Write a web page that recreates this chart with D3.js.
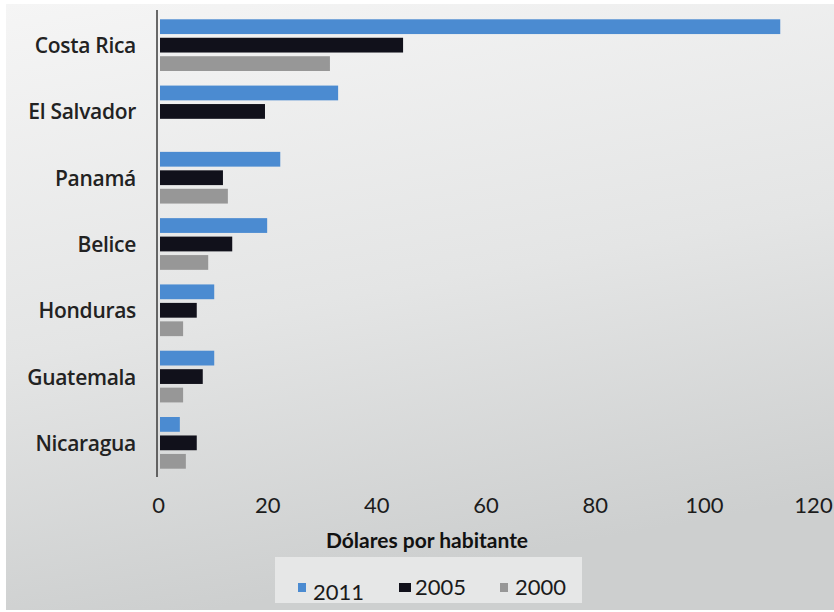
<!DOCTYPE html>
<html>
<head>
<meta charset="utf-8">
<script src="https://cdn.jsdelivr.net/npm/d3@7"></script>
<style>
  body { margin: 0; background: #fff; }
  svg { display: block; font-family: Lato, "DejaVu Sans", sans-serif; }
</style>
</head>
<body>
<div id="chart"></div>
<script>
// data (dólares por habitante)
var countries = ["Costa Rica", "El Salvador", "Panamá", "Belice", "Honduras", "Guatemala", "Nicaragua"]
var years = ["2011", "2005", "2000"]
var v2011 = [114, 33.0, 22.4, 20.0, 10.3, 10.3, 4.0]
var v2005 = [44.9, 19.6, 11.9, 13.6, 7.1, 8.2, 7.1]
var v2000 = [31.5, null, 12.8, 9.2, 4.6, 4.6, 5.1]
var xTicks = [0, 20, 40, 60, 80, 100, 120]

var series = { "2011": v2011, "2005": v2005, "2000": v2000 }
var rows = countries.map(function (c, i) {
  return { country: c, values: years.map(function (y) { return { year: y, value: series[y][i] } }) }
})

var width = 834, height = 612

var svg = d3.select("#chart")
  .append("svg")
  .attr("width", width)
  .attr("height", height)

// grey panel with soft gradient
var defs = svg.append("defs")
var grad = defs.append("linearGradient")
  .attr("id", "bg")
  .attr("x1", "0").attr("y1", "0")
  .attr("x2", "0.25").attr("y2", "1")
grad.append("stop").attr("offset", "0%").attr("stop-color", "#f5f5f5")
grad.append("stop").attr("offset", "55%").attr("stop-color", "#e4e5e5")
grad.append("stop").attr("offset", "100%").attr("stop-color", "#cdcfcf")

svg.append("rect")
  .attr("x", 6)
  .attr("y", 4)
  .attr("width", width - 6)
  .attr("height", height - 6)
  .style("fill", "url(#bg)")

var color = d3.scaleOrdinal()
  .domain(years)
  .range(["#4b8bd1", "#11111b", "#979797"])

var x = d3.scaleLinear()
  .domain([0, 120])
  .range([158, 813])

var y = d3.scaleBand()
  .domain(countries)
  .range([12, 476])
  .paddingInner(0.22)
  .paddingOuter(0.11)

var y1 = d3.scaleBand()
  .domain(years)
  .range([0, y.bandwidth()])
  .paddingInner(0.2)

// bars
var groups = svg.append("g")
  .selectAll("g")
  .data(rows)
  .enter()
  .append("g")
  .attr("transform", function (d) { return "translate(0," + y(d.country) + ")" })

groups.selectAll("rect")
  .data(function (d) { return d.values.filter(function (v) { return v.value != null }) })
  .enter()
  .append("rect")
  .attr("x", x(0) + 2)
  .attr("y", function (d) { return y1(d.year) })
  .attr("width", function (d) { return x(d.value) - x(0) - 2 })
  .attr("height", y1.bandwidth())
  .style("fill", function (d) { return color(d.year) })

// vertical axis line
svg.append("line")
  .attr("x1", x(0) - 1).attr("x2", x(0) - 1)
  .attr("y1", 10).attr("y2", 477)
  .style("stroke", "#3a3a3a")
  .style("stroke-width", 1.5)

// category labels
svg.append("g")
  .selectAll("text")
  .data(countries)
  .enter()
  .append("text")
  .attr("x", 136)
  .attr("y", function (d) { return y(d) + y1("2005") + y1.bandwidth() / 2 })
  .attr("text-anchor", "end")
  .attr("dominant-baseline", "central")
  .style("font-family", "'Open Sans', sans-serif")
  .style("font-size", "21px")
  .style("font-weight", "600")
  .style("letter-spacing", "-0.3px")
  .style("fill", "#222")
  .text(function (d) { return d })

// x axis labels
var xAxis = svg.append("g")
  .attr("transform", "translate(0,497)")
  .call(d3.axisBottom(x).tickValues(xTicks).tickSize(0).tickPadding(0))
xAxis.select(".domain").remove()
xAxis.selectAll("text")
  .style("font-family", "Lato, sans-serif")
  .style("font-size", "22px")
  .style("fill", "#1c1c1c")

// axis title
svg.append("text")
  .attr("x", 427)
  .attr("y", 548)
  .attr("text-anchor", "middle")
  .style("font-size", "21px")
  .style("font-weight", "bold")
  .style("fill", "#111")
  .text("Dólares por habitante")

// legend
var legend = svg.append("g")
legend.append("rect")
  .attr("x", 275).attr("y", 557)
  .attr("width", 307).attr("height", 46)
  .style("fill", "#e6e7e7")

var lx = d3.scalePoint().domain(years).range([298, 500])
var item = legend.selectAll(".item")
  .data(years)
  .enter()
  .append("g")
  .attr("transform", function (d) { return "translate(" + lx(d) + ",0)" })
item.append("rect")
  .attr("x", 0).attr("y", 583)
  .attr("width", function (d) { return d == "2005" ? 12 : 8 })
  .attr("height", 9)
  .style("fill", function (d) { return color(d) })
item.append("text")
  .attr("x", function (d) { return d == "2005" ? 16 : 15 })
  .attr("y", function (d) { return d == "2011" ? 600 : 595 })
  .style("font-size", "22px")
  .style("fill", "#1a1a1a")
  .text(function (d) { return d })
</script>
</body>
</html>
